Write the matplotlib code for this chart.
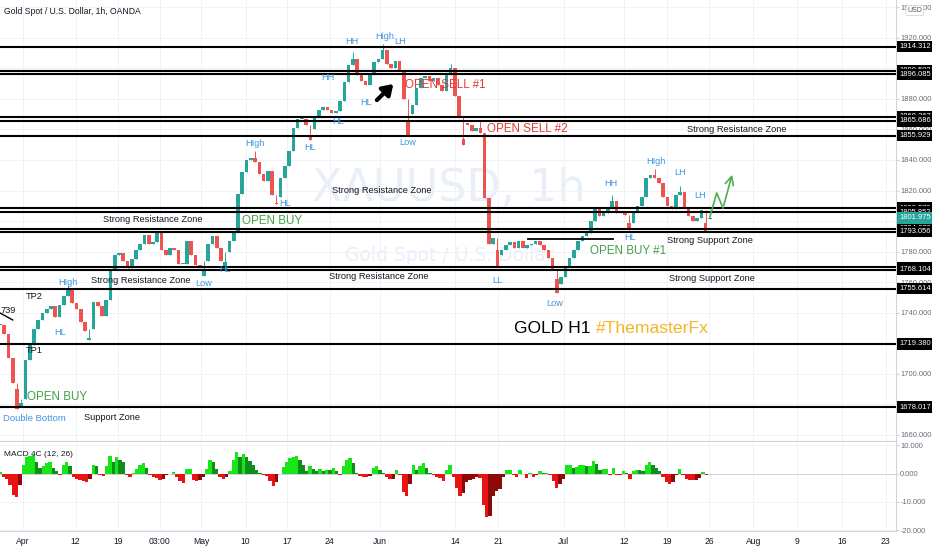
import matplotlib
matplotlib.use('Agg')
import matplotlib.pyplot as plt
from matplotlib.transforms import blended_transform_factory
from matplotlib.ticker import FormatStrFormatter
import numpy as np

# x axis is in trading days, 0 = 1 Apr 2021. Price sampled every half day.
PRICE_START = -2.7
PRICE_STEP = 0.5
closes = [
    1732, 1726, 1710, 1694, 1681, 1683, 1709, 1719, 1729, 1735,
    1740, 1742, 1744, 1737, 1745, 1751, 1755, 1746, 1742, 1734,
    1728, 1729, 1747, 1744, 1738, 1748, 1768, 1778, 1779, 1774,
    1769, 1775, 1781, 1785, 1791, 1785, 1786, 1792, 1781, 1778,
    1782, 1781, 1772, 1772, 1787, 1778, 1771, 1770, 1774, 1785,
    1790, 1782, 1774, 1780, 1787, 1793, 1818, 1832, 1840, 1841,
    1839, 1831, 1826, 1833, 1817, 1816, 1828, 1836, 1846, 1861,
    1867, 1867, 1863, 1860, 1868, 1873, 1875, 1873, 1871, 1872,
    1879, 1891, 1902, 1906, 1896, 1892, 1889, 1896, 1904, 1906,
    1912, 1903, 1900, 1905, 1899, 1880, 1870, 1876, 1887, 1894,
    1895, 1892, 1894, 1889, 1885, 1896, 1900, 1882, 1868, 1864,
    1863, 1859, 1861, 1858, 1815, 1785, 1789, 1778, 1781, 1784,
    1786, 1782, 1787, 1782, 1784, 1785, 1787, 1784, 1781, 1776,
    1768, 1759, 1763, 1770, 1776, 1781, 1787, 1790, 1792, 1800,
    1808, 1803, 1805, 1808, 1813, 1805, 1806, 1804, 1799, 1806,
    1810, 1816, 1828, 1830, 1828, 1825, 1816, 1810, 1808, 1817,
    1819, 1809, 1803, 1800, 1802, 1807, 1801, 1802,
]
# long wicks (bar index -> price the wick reaches)
wick_idx = [4, 5, 16, 21, 48, 53, 60, 65, 73, 83, 90, 96, 106, 109, 113,
            117, 131, 144, 148, 154, 160, 166]
wick_to = [1677, 1679, 1758, 1722, 1764, 1767, 1846, 1811, 1853, 1911, 1916, 1856, 1903, 1850, 1866,
           1770, 1753, 1817, 1794, 1834, 1823, 1793]

MACD_START = -2.7
MACD_STEP = 0.392
macd = [
    0.5, -1.0, -2.0, -4.0, -7.4, -8.3, -4.0, 3.0, 5.8, 6.2,
    6.7, 4.3, 2.0, 2.6, 3.7, 4.0, 2.0, 0.8, -0.3, 3.2,
    4.2, 2.6, -1.2, -2.0, -2.3, -2.5, -2.8, -1.8, 3.0, 2.6,
    -0.5, -0.8, 2.6, 6.4, 4.3, 6.0, 4.7, 4.2, -0.5, -1.2,
    0.3, 1.6, 3.0, 3.7, 2.0, -0.5, -1.0, -1.5, -2.3, -1.8,
    -0.6, -0.2, 0.5, -1.0, -2.7, -3.3, 1.5, 1.8, -2.1, -2.5,
    -2.1, -1.2, 1.6, 4.9, 4.3, 1.6, -1.2, -1.9, -1.0, 0.8,
    5.0, 7.5, 6.0, 7.0, 6.0, 4.5, 3.2, 1.2, 0.1, -0.3,
    -0.8, -2.5, -4.2, -3.0, 0.0, 2.3, 4.3, 5.5, 6.0, 6.4,
    4.9, 3.2, 0.8, 2.6, 1.6, 0.8, 1.6, 0.8, 1.4, 1.2,
    2.0, 0.8, -0.6, 2.6, 4.9, 5.5, 3.7, 0.1, -0.9, -1.0,
    -1.2, -0.8, 2.0, 2.8, 1.4, 0.3, -1.0, -2.0, -1.8, 1.4,
    -0.5, -6.5, -8.0, -3.5, 3.2, 1.4, 2.6, 3.7, 2.0, 0.2,
    -0.4, -1.0, -1.5, -2.7, 1.4, 3.2, -1.0, -5.0, -8.0, -7.0,
    -3.0, -2.4, -2.0, -1.2, -1.5, -11.0, -15.5, -15.0, -8.0, -6.0,
    -5.5, -1.0, 1.4, 1.4, -0.6, -1.0, 1.4, -0.1, -1.5, 0.2,
    -1.3, -0.3, 1.0, 0.2, 0.2, -0.5, -2.5, -5.0, -3.6, -2.0,
    3.0, 3.0, 2.0, 2.2, 3.0, 3.0, 2.7, 2.7, 4.5, 3.5,
    1.2, 1.5, 1.5, -0.6, 2.0, -0.3, -0.5, 1.0, 0.2, -1.9,
    0.8, 1.4, 1.2, 0.8, 3.2, 4.1, 3.2, 2.0, 0.8, -1.2,
    -2.8, -3.5, -3.0, -0.5, 1.6, -0.5, -1.8, -2.4, -2.4, -2.3,
    -1.5, 0.6, -0.5,
]

levels = [1914.312, 1898.502, 1896.085, 1868.267, 1865.686, 1855.929,
          1808.370, 1805.852, 1794.878, 1793.056, 1769.678, 1768.104,
          1755.614, 1719.380, 1678.017]
last_price = 1801.975
buy1_line = 1788.2

date_ticks = [0, 6.2, 11.2, 16.1, 21.0, 26.2, 31.1, 36.1, 42.0, 50.8,
              55.9, 63.6, 70.7, 75.8, 80.7, 85.9, 91.1, 96.4, 101.5]
date_labels = ['Apr', '12', '19', '03:00', 'May', '10', '17', '24', 'Jun', '14',
               '21', 'Jul', '12', '19', '26', 'Aug', '9', '16', '23']

UP = '#26a69a'
DOWN = '#ef5350'
BLUE = '#3d95e0'
GREEN = '#43a047'
RED = '#e53935'
GRID = '#f0f2f6'
TXT = '#131722'

plt.rcParams['font.family'] = ['Liberation Sans', 'DejaVu Sans']

fig = plt.figure(figsize=(9.32, 5.5), dpi=100)
ax = fig.add_axes([0, 0.198, 0.9614, 0.802])
ax2 = fig.add_axes([0, 0.0345, 0.9614, 0.1618], sharex=ax)

# ---- price pane ----
c = np.array(closes, dtype=float)
o = np.r_[c[0], c[:-1]]
x = PRICE_START + PRICE_STEP * np.arange(len(c))
hi = np.maximum(o, c)
lo = np.minimum(o, c)
for i, p in zip(wick_idx, wick_to):
    hi[i] = max(hi[i], p)
    lo[i] = min(lo[i], p)
col = np.where(c >= o, UP, DOWN)
ax.vlines(x, lo, hi, colors=col, linewidth=0.7, zorder=3)
ax.bar(x, np.maximum(np.abs(c - o), 0.6), bottom=lo, width=0.42, color=col, linewidth=0, zorder=3)

for lv in levels:
    ax.axhline(lv, color='black', linewidth=1.5, zorder=4)
ax.plot([59.4, 69.4], [buy1_line, buy1_line], color='black', linewidth=1.3, zorder=4)

ax.set_xlim(-2.7, 102.7)
ax.set_ylim(1655.7, 1944.9)
ax.yaxis.tick_right()
ax.set_yticks(np.arange(1660, 1941, 20))
ax.yaxis.set_major_formatter(FormatStrFormatter('%.3f'))
ax.tick_params(axis='y', labelsize=5.4, colors='#6a6d78', length=2, pad=1)
ax.tick_params(axis='y', color='#d1d4dc')
ax.tick_params(axis='x', labelbottom=False, length=0)
ax.grid(True, color=GRID, linewidth=0.7)
ax.set_axisbelow(True)
for s in ['top', 'left']:
    ax.spines[s].set_visible(False)
for s in ['right', 'bottom']:
    ax.spines[s].set_color('#d1d4dc')
    ax.spines[s].set_linewidth(0.8)

# watermark
ax.text(50.1, 1821.6, 'XAUUSD, 1h', fontsize=32, color='#e8eff9', ha='center', va='center',
        family='DejaVu Sans', zorder=0)
ax.text(50.1, 1777.7, 'Gold Spot / U.S. Dollar', fontsize=13.5, color='#e8eff9', ha='center', va='center',
        family='DejaVu Sans', zorder=0)

# price scale labels
trans = blended_transform_factory(ax.transAxes, ax.transData)
for lv in levels:
    ax.text(1.0035, lv, f'{lv:.3f}', transform=trans, ha='left', va='center', fontsize=5.4,
            color='white', bbox=dict(boxstyle='square,pad=0.3', fc='black', ec='none'),
            clip_on=False, zorder=10)
ax.text(1.0035, last_price, f'{last_price:.3f}', transform=trans, ha='left', va='center', fontsize=5.4,
        color='white', bbox=dict(boxstyle='square,pad=0.3', fc='#26a69a', ec='none'),
        clip_on=False, zorder=10)
ax.text(1.021, 0.976, 'USD', transform=ax.transAxes, ha='center', va='center', fontsize=5,
        color='#555', bbox=dict(boxstyle='round,pad=0.2', fc='white', ec='#cfd3dc', lw=0.6),
        clip_on=False, zorder=11)

ax.text(0.004, 0.975, 'Gold Spot / U.S. Dollar, 1h, OANDA', transform=ax.transAxes,
        fontsize=6.2, color=TXT, ha='left', va='center', zorder=12)

SMALL = 6.6
ZONE = 6.7
BIG = 8.4
labels = [
    ('HH', 38.7, 1918, BLUE, SMALL, 'center'),
    ('High', 42.6, 1920.7, BLUE, SMALL, 'center'),
    ('LH', 44.4, 1918, BLUE, SMALL, 'center'),
    ('HH', 35.9, 1894.4, BLUE, SMALL, 'center'),
    ('HL', 40.4, 1878, BLUE, SMALL, 'center'),
    ('HL', 37.1, 1865, BLUE, SMALL, 'center'),
    ('HL', 33.8, 1848, BLUE, SMALL, 'center'),
    ('Low', 45.3, 1851.8, BLUE, SMALL, 'center'),
    ('HIgh', 27.3, 1851, BLUE, SMALL, 'center'),
    ('HL', 30.8, 1811.8, BLUE, SMALL, 'center'),
    ('Low', 21.3, 1759.3, BLUE, SMALL, 'center'),
    ('HL', 23.8, 1767.9, BLUE, SMALL, 'center'),
    ('HIgh', 5.3, 1760, BLUE, SMALL, 'center'),
    ('HL', 4.35, 1726.6, BLUE, SMALL, 'center'),
    ('Double Bottom', -2.3, 1670.8, BLUE, 6.8, 'left'),
    ('LL', 55.8, 1761.3, BLUE, SMALL, 'center'),
    ('Low', 62.6, 1745.6, BLUE, SMALL, 'center'),
    ('HH', 69.1, 1824.9, BLUE, SMALL, 'center'),
    ('HL', 71.4, 1788.9, BLUE, SMALL, 'center'),
    ('HIgh', 74.4, 1838.7, BLUE, SMALL, 'center'),
    ('LH', 77.3, 1831.5, BLUE, SMALL, 'center'),
    ('LH', 79.6, 1817, BLUE, SMALL, 'center'),
    ('Strong Resistance Zone', 42.2, 1820.3, TXT, ZONE, 'center'),
    ('Strong Resistance Zone', 15.3, 1800.7, TXT, ZONE, 'center'),
    ('Strong Resistance Zone', 41.9, 1763.3, TXT, ZONE, 'center'),
    ('Strong Resistance Zone', 13.8, 1761.3, TXT, ZONE, 'center'),
    ('Strong Resistance Zone', 84.0, 1860.3, TXT, ZONE, 'center'),
    ('Strong Support Zone', 80.8, 1787.5, TXT, ZONE, 'center'),
    ('Strong Support Zone', 81.1, 1762, TXT, ZONE, 'center'),
    ('Support Zone', 10.5, 1671.5, TXT, ZONE, 'center'),
    ('TP2', 1.3, 1750.8, TXT, ZONE, 'center'),
    ('TP1', 1.3, 1714.8, TXT, ZONE, 'center'),
    ('739', -2.6, 1741.6, TXT, ZONE, 'left'),
    ('OPEN SELL #1', 44.9, 1889, RED, BIG, 'left'),
    ('OPEN SELL #2', 54.6, 1860.3, RED, BIG, 'left'),
    ('OPEN BUY', 25.8, 1800, GREEN, BIG, 'left'),
    ('OPEN BUY', 0.47, 1684.6, GREEN, BIG, 'left'),
    ('OPEN BUY #1', 66.7, 1780.3, GREEN, BIG, 'left'),
]
for txt, tx, ty, color, size, ha in labels:
    ax.text(tx, ty, txt, color=color, fontsize=size, ha=ha, va='center', zorder=6)

gold = ax.text(57.8, 1729.8, 'GOLD H1', color='black', fontsize=12.6, ha='left', va='center', zorder=6)
ax.annotate('#ThemasterFx', xy=(1, 0.5), xycoords=gold, xytext=(3.5, 0), textcoords='offset points',
            color='#f4b627', fontsize=12.6, ha='left', va='center', zorder=6)

# arrows
ax.plot([-2.7, -1.2], [1739.7, 1735.1], color='black', linewidth=1.0, zorder=6)
ax.annotate('', xy=(43.8, 1891.1), xytext=(41.4, 1878),
            arrowprops=dict(arrowstyle='-|>,head_width=0.4,head_length=0.6', color='black', lw=3),
            zorder=7)
ax.plot([80.8, 81.6, 82.35], [1802.6, 1818.4, 1808.5], color='#4caf50', linewidth=1.2, zorder=7)
ax.annotate('', xy=(83.5, 1832.1), xytext=(82.35, 1808.5),
            arrowprops=dict(arrowstyle='->,head_width=0.3,head_length=0.6', color='#4caf50', lw=1.2),
            zorder=7)

# ---- MACD pane ----
m = np.array(macd)
xm = MACD_START + MACD_STEP * np.arange(len(m))
prev = np.r_[m[0], m[:-1]]
mcol = np.where(m >= 0,
                np.where(m >= prev, '#19e619', '#0f8f1a'),
                np.where(m <= prev, '#e81414', '#8e0a0a'))
ax2.bar(xm, m, width=MACD_STEP, color=mcol, linewidth=0, zorder=3)
ax2.axhline(0, color='#d1d4dc', linewidth=0.7, zorder=2)
ax2.set_ylim(-20.3, 11.2)
ax2.yaxis.tick_right()
ax2.set_yticks([10, 0, -10, -20])
ax2.yaxis.set_major_formatter(FormatStrFormatter('%.3f'))
ax2.tick_params(axis='y', labelsize=5.4, colors='#6a6d78', length=2, pad=1)
ax2.tick_params(axis='y', color='#d1d4dc')
ax2.set_xticks(date_ticks)
ax2.set_xticklabels(date_labels)
ax2.tick_params(axis='x', labelsize=6.2, colors=TXT, length=0, pad=4)
ax2.grid(True, color=GRID, linewidth=0.7)
ax2.set_axisbelow(True)
for s in ['top', 'left']:
    ax2.spines[s].set_visible(False)
for s in ['right', 'bottom']:
    ax2.spines[s].set_color('#d1d4dc')
    ax2.spines[s].set_linewidth(0.8)
ax2.text(0.005, 0.86, 'MACD 4C (12, 26)', transform=ax2.transAxes, fontsize=6, color=TXT,
         ha='left', va='center', zorder=5)

fig.savefig('out.png', dpi=100)
